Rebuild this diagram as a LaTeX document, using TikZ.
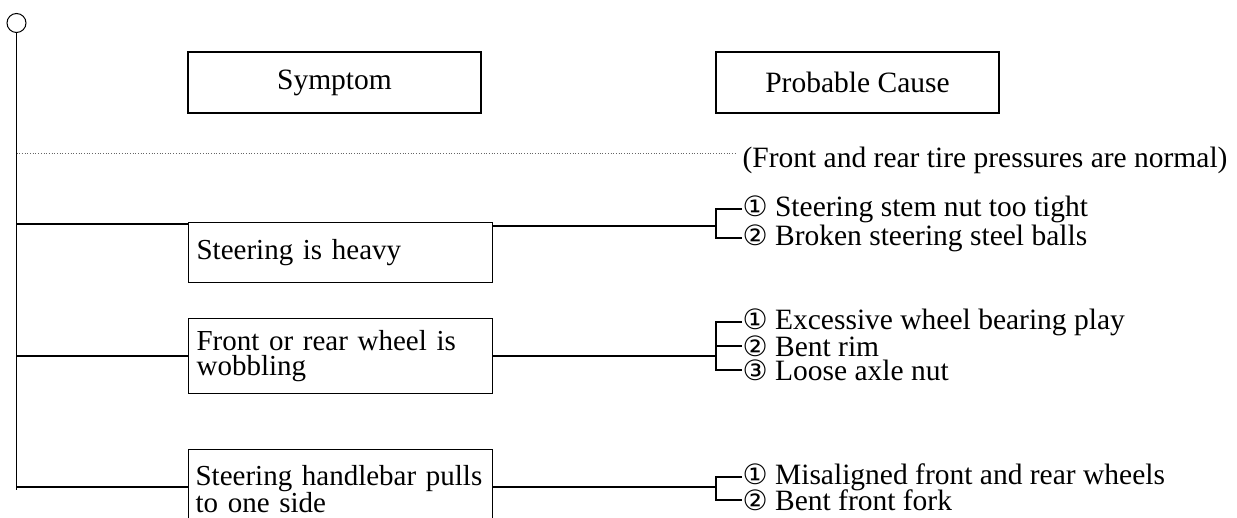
\documentclass[tikz,border=0pt]{standalone}
\usepackage{fontspec}
\setmainfont{Liberation Serif}
\newfontfamily\symfont{DejaVu Sans}
\newcommand{\cnum}[1]{{\symfont\fontsize{28}{25}\selectfont #1}\ }
\begin{document}
\begin{tikzpicture}[x=1pt,y=-1pt,line width=1.2pt,
  every node/.style={font=\fontsize{29.5}{25.5}\selectfont},
  hdrbox/.style={draw,minimum width=293pt,minimum height=61pt,inner sep=0pt},
  symbox/.style={draw,anchor=north west,text width=294pt,inner xsep=5pt,inner ysep=0pt,align=left,
    font=\fontsize{29}{25.5}\selectfont},
  cause/.style={anchor=west,inner sep=0pt},
  conn/.style={line width=1.2pt}]
\useasboundingbox (0,0) rectangle (1237,518);
\clip (0,0) rectangle (1237,518);
% trunk
\node[draw,circle,minimum size=19pt,inner sep=0pt,line width=1pt] (top) at (16.5,23) {};
\coordinate (bot) at (16.5,490);
\draw[conn] (top.south) -- (bot);
% headers
\node[hdrbox] (hs) at (334.5,82.5) {Symptom};
\node[hdrbox,minimum width=283pt] (hp) at (857.5,82.5) {Probable Cause};
% dotted line and note
\coordinate (d0) at (16.5,153);
\coordinate (d1) at (735,153);
\draw[dotted,line width=0.7pt,black!60] (d0) -- (d1);
\node[cause] (note) at (742,160) {(Front and rear tire pressures are normal)};
% row 1
\node[symbox,minimum height=60pt] (b1) at (188,222) {\hspace*{3pt}Steering is heavy};
\coordinate (t1) at (16.5,224);
\draw[conn] (t1) -- (t1 -| b1.west);
\coordinate (k1) at (716,226);
\draw[conn] (b1.east |- k1) -- (k1);
\node[cause] (c11) at (742,209) {\cnum{①}Steering stem nut too tight};
\node[cause] (c12) at (742,238) {\cnum{②}Broken steering steel balls};
\draw[conn] (c11.west) -| (k1) |- (c12.west);
% row 2
\node[symbox,minimum height=75pt] (b2) at (188,318) {\hspace*{3pt}Front or rear wheel is\\\hspace*{3pt}wobbling};
\coordinate (t2) at (16.5,356);
\draw[conn] (t2) -- (t2 -| b2.west);
\coordinate (k2) at (716,356);
\draw[conn] (b2.east |- k2) -- (k2);
\node[cause] (c21) at (742,322) {\cnum{①}Excessive wheel bearing play};
\node[cause] (c22) at (742,346) {\cnum{②}Bent rim};
\node[cause] (c23) at (742,370) {\cnum{③}Loose axle nut};
\draw[conn] (c21.west) -| (k2) |- (c23.west);
\draw[conn] (c22.west) -- (c22.west -| k2);
% row 3
\node[symbox,minimum height=79pt] (b3) at (188,449) {\hspace*{2pt}\mbox{Steering handlebar pulls}\\\hspace*{2pt}to one side};
\coordinate (t3) at (16.5,487);
\draw[conn] (t3) -- (t3 -| b3.west);
\coordinate (k3) at (716,487);
\draw[conn] (b3.east |- k3) -- (k3);
\node[cause] (c31) at (742,477) {\cnum{①}Misaligned front and rear wheels};
\node[cause] (c32) at (742,500) {\cnum{②}Bent front fork};
\draw[conn] (c31.west) -| (k3) |- (c32.west);
\end{tikzpicture}
\end{document}
